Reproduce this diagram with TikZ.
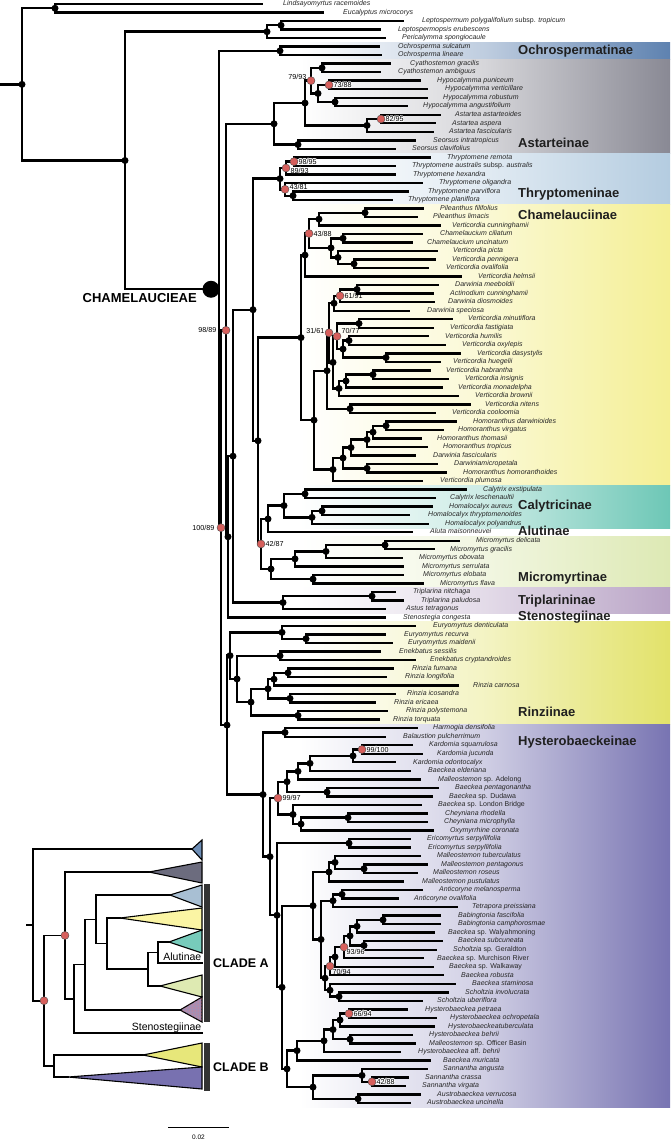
\documentclass[tikz,border=0pt]{standalone}
\usepackage{fontspec}
\setmainfont{Liberation Sans}
\usetikzlibrary{calc,patterns}
\pgfdeclarelayer{fg}
\pgfsetlayers{main,fg}
\definecolor{cOch}{HTML}{5E82B0}
\definecolor{cAst}{HTML}{898994}
\definecolor{cThr}{HTML}{B4CCE0}
\definecolor{cCha}{HTML}{F4EF94}
\definecolor{cCal}{HTML}{6DC7B6}
\definecolor{cMic}{HTML}{DDE9B4}
\definecolor{cTri}{HTML}{B9A4C6}
\definecolor{cRin}{HTML}{E2E26A}
\definecolor{cHys}{HTML}{7874B2}
\definecolor{tOch}{HTML}{6E8EB6}
\definecolor{tAst}{HTML}{6C6C7E}
\definecolor{tThr}{HTML}{A8BFD3}
\definecolor{tCha}{HTML}{FBF5A4}
\definecolor{tCal}{HTML}{77CBBB}
\definecolor{tMic}{HTML}{DEEAB2}
\definecolor{tTri}{HTML}{A58FB4}
\definecolor{tRin}{HTML}{E7E77A}
\definecolor{tHys}{HTML}{7871B0}
\definecolor{rdotc}{HTML}{D65F5C}
\tikzset{
  br/.style={line width=2.4pt, line join=miter, line cap=rect},
  ibr/.style={line width=1.6pt, line join=miter, line cap=rect},
  tiplab/.style={anchor=west, inner sep=0pt, font=\fontsize{7}{8}\selectfont\itshape, text=black!85, text height=5pt, text depth=1.5pt},
  sup/.style={inner sep=0.5pt, font=\fontsize{7.2}{8}\selectfont, text=black},
  clab/.style={anchor=west, inner sep=0pt, font=\fontsize{13}{15}\selectfont\bfseries, text=black!88},
  rdot/.style={fill=rdotc, draw=black!70, line width=0.4pt},
  tri/.style={draw=black, line width=1.1pt, line join=miter},
}
\newcommand\tipnode[4]{%
  \coordinate (t#1) at (#2,{4+(#1-1)*8.52});
  \node[tiplab] (l#1) at (#3,{4+(#1-1)*8.52}) {#4};}
\newcommand\conn[4]{%
  \coordinate (tmp) at ($(#3)!0.5!(#4)$);
  \coordinate (#1) at (#2,0 |- tmp);
  \draw[br] (#1) |- (#3);
  \draw[br] (#1) |- (#4);}
\newcommand\iconn[4]{%
  \coordinate (tmp) at ($(#3)!0.5!(#4)$);
  \coordinate (#1) at (#2,0 |- tmp);
  \draw[ibr] (#1) |- (#3);
  \draw[ibr] (#1) |- (#4);}
\newcommand\bnode[4]{\conn{#1}{#2}{#3}{#4}%
  \begin{pgfonlayer}{fg}\fill (#1) circle (3.5pt);\end{pgfonlayer}}
\newcommand\rnode[6]{\conn{#1}{#2}{#3}{#4}%
  \begin{pgfonlayer}{fg}\filldraw[rdot] (#1) circle (4pt);
  \node[sup,#5] (s#1) at (#1) {#6};\end{pgfonlayer}}
\newcommand\rnodeh[6]{\conn{#1}{#2}{#3}{#4}%
  \begin{pgfonlayer}{fg}\filldraw[rdot] (#1) circle (4pt);
  \foreach \hx/\hy [count=\hc] in {0.7/0,-0.7/0,0/0.7,0/-0.7,0.5/0.5,-0.5/0.5,0.5/-0.5,-0.5/-0.5}{\node[sup,#5,text=white,xshift=\hx pt,yshift=\hy pt] (h#1\hc) at (#1) {#6};}
  \node[sup,#5] (s#1) at (#1) {#6};\end{pgfonlayer}}
\begin{document}
\begin{tikzpicture}[x=1pt,y=-1pt]
\useasboundingbox (0,0) rectangle (670,1140);
\fill[white] (0,0) rectangle (670,1140);
% bands
\shade[left color=white, right color=cOch, middle color=cOch!40] (300,42.3) rectangle (670,59.4);
\shade[left color=white, right color=cAst, middle color=cAst!35] (300,59.4) rectangle (670,153.1);
\shade[left color=white, right color=cThr, middle color=cThr!40] (300,153.1) rectangle (670,204.2);
\shade[left color=white, right color=cCha, middle color=cCha!40] (300,204.2) rectangle (670,485.4);
\shade[left color=white, right color=cCal, middle color=cCal!35] (300,485.4) rectangle (670,528.0);
\shade[left color=white, right color=cMic, middle color=cMic!40] (300,536.5) rectangle (670,587.6);
\shade[left color=white, right color=cTri, middle color=cTri!40] (300,587.6) rectangle (670,613.2);
\shade[left color=white, right color=cRin, middle color=cRin!40] (300,621.7) rectangle (670,724.0);
\shade[left color=white, right color=cHys, middle color=cHys!35] (300,724.0) rectangle (670,1107.3);
% clade labels
\node[clab] (cl1) at (518,50.9) {Ochrospermatinae};
\node[clab] (cl2) at (518,143) {Astarteinae};
\node[clab] (cl3) at (518,194) {Thryptomeninae};
\node[clab] (cl4) at (518,215) {Chamelauciinae};
\node[clab] (cl5) at (518,506) {Calytricinae};
\node[clab] (cl6) at (518,530.5) {Alutinae};
\node[clab] (cl7) at (518,578) {Micromyrtinae};
\node[clab] (cl8) at (518,601) {Triplarininae};
\node[clab] (cl9) at (518,617.5) {Stenostegiinae};
\node[clab] (cl10) at (518,712) {Rinziinae};
\node[clab] (cl11) at (518,742) {Hysterobaeckeinae};
% tips
\tipnode{1}{262}{283}{Lindsayomyrtus racemoides}
\tipnode{2}{323}{343}{Eucalyptus microcorys}
\tipnode{3}{403}{422}{Leptospermum polygalifolium \textup{subsp.} tropicum}
\tipnode{4}{380}{398}{Leptospermopsis erubescens}
\tipnode{5}{385}{402}{Pericalymma spongiocaule}
\tipnode{6}{379}{398}{Ochrosperma sulcatum}
\tipnode{7}{381}{398}{Ochrosperma lineare}
\tipnode{8}{390}{410}{Cyathostemon gracilis}
\tipnode{9}{380}{398}{Cyathostemon ambiguus}
\tipnode{10}{420}{437}{Hypocalymma puniceum}
\tipnode{11}{427}{445}{Hypocalymma verticillare}
\tipnode{12}{427}{443}{Hypocalymma robustum}
\tipnode{13}{407}{423}{Hypocalymma angustifolium}
\tipnode{14}{440}{455}{Astartea astarteoides}
\tipnode{15}{435}{452}{Astartea aspera}
\tipnode{16}{433}{449}{Astartea fascicularis}
\tipnode{17}{415}{433}{Seorsus intratropicus}
\tipnode{18}{395}{412}{Seorsus clavifolius}
\tipnode{19}{430}{447}{Thryptomene remota}
\tipnode{20}{395}{412}{Thryptomene australis \textup{subsp.} australis}
\tipnode{21}{395}{413}{Thryptomene hexandra}
\tipnode{22}{422}{439}{Thryptomene oligandra}
\tipnode{23}{408}{428}{Thryptomene parviflora}
\tipnode{24}{392}{408}{Thryptomene planiflora}
\tipnode{25}{423}{440}{Pileanthus filifolius}
\tipnode{26}{417}{433}{Pileanthus limacis}
\tipnode{27}{440}{452}{Verticordia cunninghamii}
\tipnode{28}{422}{440}{Chamelaucium ciliatum}
\tipnode{29}{412}{427}{Chamelaucium uncinatum}
\tipnode{30}{437}{453}{Verticordia picta}
\tipnode{31}{435}{452}{Verticordia pennigera}
\tipnode{32}{428}{446}{Verticordia ovalifolia}
\tipnode{33}{461}{478}{Verticordia helmsii}
\tipnode{34}{438}{455}{Darwinia meeboldii}
\tipnode{35}{433}{450}{Actinodium cunninghamii}
\tipnode{36}{434}{448}{Darwinia diosmoides}
\tipnode{37}{409}{427}{Darwinia speciosa}
\tipnode{38}{452}{468}{Verticordia minutiflora}
\tipnode{39}{433}{450}{Verticordia fastigiata}
\tipnode{40}{428}{445}{Verticordia humilis}
\tipnode{41}{445}{462}{Verticordia oxylepis}
\tipnode{42}{460}{477}{Verticordia dasystylis}
\tipnode{43}{440}{453}{Verticordia huegelii}
\tipnode{44}{430}{446}{Verticordia habrantha}
\tipnode{45}{448}{465}{Verticordia insignis}
\tipnode{46}{442}{458}{Verticordia monadelpha}
\tipnode{47}{458}{475}{Verticordia brownii}
\tipnode{48}{470}{485}{Verticordia nitens}
\tipnode{49}{435}{452}{Verticordia cooloomia}
\tipnode{50}{456}{473}{Homoranthus darwinioides}
\tipnode{51}{443}{458}{Homoranthus virgatus}
\tipnode{52}{421}{437}{Homoranthus thomasii}
\tipnode{53}{427}{443}{Homoranthus tropicus}
\tipnode{54}{415}{433}{Darwinia fascicularis}
\tipnode{55}{437}{454}{Darwiniamicropetala}
\tipnode{56}{446}{463}{Homoranthus homoranthoides}
\tipnode{57}{422}{440}{Verticordia plumosa}
\tipnode{58}{466}{483}{Calytrix exstipulata}
\tipnode{59}{435}{450}{Calytrix leschenaultii}
\tipnode{60}{432}{449}{Homalocalyx aureus}
\tipnode{61}{409}{428}{Homalocalyx thryptomenoides}
\tipnode{62}{428}{445}{Homalocalyx polyandrus}
\tipnode{63}{412}{430}{Aluta maisonneuvei}
\tipnode{64}{459}{476}{Micromyrtus delicata}
\tipnode{65}{434}{450}{Micromyrtus gracilis}
\tipnode{66}{402}{419}{Micromyrtus obovata}
\tipnode{67}{403}{422}{Micromyrtus serrulata}
\tipnode{68}{403}{423}{Micromyrtus elobata}
\tipnode{69}{423}{440}{Micromyrtus flava}
\tipnode{70}{395}{413}{Triplarina nitchaga}
\tipnode{71}{403}{421}{Triplarina paludosa}
\tipnode{72}{385}{406}{Astus tetragonus}
\tipnode{73}{385}{403}{Stenostegia congesta}
\tipnode{74}{415}{433}{Euryomyrtus denticulata}
\tipnode{75}{385}{404}{Euryomyrtus recurva}
\tipnode{76}{392}{408}{Euryomyrtus maidenii}
\tipnode{77}{380}{399}{Enekbatus sessilis}
\tipnode{78}{415}{430}{Enekbatus cryptandroides}
\tipnode{79}{393}{412}{Rinzia fumana}
\tipnode{80}{386}{405}{Rinzia longifolia}
\tipnode{81}{458}{473}{Rinzia carnosa}
\tipnode{82}{395}{407}{Rinzia icosandra}
\tipnode{83}{375}{394}{Rinzia ericaea}
\tipnode{84}{387}{406}{Rinzia polystemona}
\tipnode{85}{379}{393}{Rinzia torquata}
\tipnode{86}{417}{433}{Harmogia densifolia}
\tipnode{87}{385}{403}{Balaustion pulcherrimum}
\tipnode{88}{412}{429}{Kardomia squarrulosa}
\tipnode{89}{422}{437}{Kardomia jucunda}
\tipnode{90}{395}{413}{Kardomia odontocalyx}
\tipnode{91}{410}{428}{Baeckea elderiana}
\tipnode{92}{420}{438}{Malleostemon \textup{sp. Adelong}}
\tipnode{93}{438}{455}{Baeckea pentagonantha}
\tipnode{94}{432}{449}{Baeckea \textup{sp. Dudawa}}
\tipnode{95}{421}{438}{Baeckea \textup{sp. London Bridge}}
\tipnode{96}{427}{445}{Cheyniana rhodella}
\tipnode{97}{427}{444}{Cheyniana microphylla}
\tipnode{98}{433}{450}{Oxymyrrhine coronata}
\tipnode{99}{410}{427}{Ericomyrtus serpyllifolia}
\tipnode{100}{410}{428}{Ericomyrtus serpyllifolia}
\tipnode{101}{420}{437}{Malleostemon tuberculatus}
\tipnode{102}{427}{441}{Malleostemon pentagonus}
\tipnode{103}{417}{433}{Malleostemon roseus}
\tipnode{104}{403}{422}{Malleostemon pustulatus}
\tipnode{105}{422}{439}{Anticoryne melanosperma}
\tipnode{106}{398}{414}{Anticoryne ovalifolia}
\tipnode{107}{457}{472}{Tetrapora preissiana}
\tipnode{108}{440}{458}{Babingtonia fascifolia}
\tipnode{109}{440}{458}{Babingtonia camphorosmae}
\tipnode{110}{434}{448}{Baeckea \textup{sp. Walyahmoning}}
\tipnode{111}{442}{458}{Baeckea subcuneata}
\tipnode{112}{436}{453}{Scholtzia \textup{sp. Geraldton}}
\tipnode{113}{423}{437}{Baeckea \textup{sp. Murchison River}}
\tipnode{114}{433}{449}{Baeckea \textup{sp. Walkaway}}
\tipnode{115}{443}{461}{Baeckea robusta}
\tipnode{116}{455}{472}{Baeckea staminosa}
\tipnode{117}{448}{465}{Scholtzia involucrata}
\tipnode{118}{422}{437}{Scholtzia uberiflora}
\tipnode{119}{407}{425}{Hysterobaeckea petraea}
\tipnode{120}{436}{450}{Hysterobaeckea ochropetala}
\tipnode{121}{434}{448}{Hysterobaeckeatuberculata}
\tipnode{122}{412}{429}{Hysterobaeckea behrii}
\tipnode{123}{415}{429}{Malleostemon \textup{sp. Officer Basin}}
\tipnode{124}{400}{418}{Hysterobaeckea \textup{aff.} behrii}
\tipnode{125}{430}{443}{Baeckea muricata}
\tipnode{126}{427}{443}{Sannantha angusta}
\tipnode{127}{408}{425}{Sannantha crassa}
\tipnode{128}{405}{422}{Sannantha virgata}
\tipnode{129}{420}{437}{Austrobaeckea verrucosa}
\tipnode{130}{410}{427}{Austrobaeckea uncinella}
% outgroups
\bnode{nLE}{55}{t1}{t2}
\bnode{nLP2}{281}{t3}{t4}
\bnode{nLP}{267}{nLP2}{t5}
\bnode{nOch}{280}{t6}{t7}
% Astarteinae
\bnode{nCya}{322}{t8}{t9}
\rnodeh{nHy1}{329}{t10}{t11}{anchor=west,xshift=4pt}{73/88}
\bnode{nHy2}{335}{t12}{t13}
\bnode{nHy}{318}{nHy1}{nHy2}
\rnode{n7993}{311}{nCya}{nHy}{anchor=east,xshift=-4pt,yshift=4pt}{79/93}
\rnodeh{nAs1}{381}{t14}{t15}{anchor=west,xshift=4pt}{82/95}
\bnode{nAs}{367}{nAs1}{t16}
\bnode{nAH}{305}{n7993}{nAs}
\bnode{nSeo}{298}{t17}{t18}
\bnode{nAst}{274}{nAH}{nSeo}
% Thryptomeninae
\rnodeh{nTh1}{294}{t19}{t20}{anchor=west,xshift=4pt}{98/95}
\rnodeh{nTh2}{286}{nTh1}{t21}{anchor=west,xshift=4pt,yshift=-2.5pt}{89/93}
\bnode{nTh3}{293}{t23}{t24}
\rnodeh{nTh4}{285}{t22}{nTh3}{anchor=west,xshift=4pt,yshift=2pt}{43/81}
\bnode{nThr}{280}{nTh2}{nTh4}
% Chamelauciinae
\bnode{nPil}{365}{t25}{t26}
\bnode{nPV}{319}{nPil}{t27}
\bnode{nCham}{343}{t28}{t29}
\bnode{nVp2}{354}{t31}{t32}
\bnode{nVp}{338}{t30}{nVp2}
\bnode{nCV}{331}{nCham}{nVp}
\rnode{n4388}{309}{nPV}{nCV}{anchor=west,xshift=4pt}{43/88}
\bnode{nC1}{305}{n4388}{t33}
\bnode{nDa1}{357}{t34}{t35}
\rnode{n6191}{340}{nDa1}{t36}{anchor=west,xshift=4pt}{61/91}
\bnode{nDa}{334}{n6191}{t37}
\bnode{nVm}{359}{t38}{t39}
\bnode{nVh}{349}{t40}{t41}
\bnode{nVd}{386}{t42}{t43}
\bnode{nVhd}{343}{nVh}{nVd}
\rnode{n7077}{337}{nVm}{nVhd}{anchor=west,xshift=4pt,yshift=5pt}{70/77}
\bnode{nVi}{373}{t44}{t45}
\bnode{nVim}{346}{nVi}{t46}
\bnode{nVb}{339}{nVim}{t47}
\bnode{nVlow}{333}{n7077}{nVb}
\rnode{n3161}{329}{nDa}{nVlow}{anchor=east,xshift=-4pt,yshift=2pt}{31/61}
\bnode{nVn}{350}{t48}{t49}
\bnode{nC2a}{327}{n3161}{nVn}
\bnode{nHo1}{386}{t50}{t51}
\bnode{nHo2}{373}{nHo1}{t52}
\bnode{nHo3}{367}{nHo2}{t53}
\bnode{nHo4}{351}{nHo3}{t54}
\bnode{nHo5}{367}{t55}{t56}
\bnode{nHo6}{343}{nHo4}{nHo5}
\bnode{nHo7}{333}{nHo6}{t57}
\bnode{nC2}{314}{nC2a}{nHo7}
\bnode{nChC}{301}{nC1}{nC2}
% Calytricinae, Alutinae, Micromyrtinae
\bnode{nCx}{305}{t58}{t59}
\bnode{nHm1}{322}{t60}{t61}
\bnode{nHm}{312}{nHm1}{t62}
\bnode{nCal}{284}{nCx}{nHm}
\bnode{nCA}{268}{nCal}{t63}
\bnode{nMi1}{385}{t64}{t65}
\bnode{nMi2}{326}{nMi1}{t66}
\bnode{nMi3}{295}{nMi2}{t67}
\bnode{nMi4}{313}{t68}{t69}
\bnode{nMic}{271}{nMi3}{nMi4}
\rnode{n4287}{261}{nCA}{nMic}{anchor=west,xshift=4pt}{42/87}
\bnode{nChMi}{258}{nChC}{n4287}
\bnode{nThCh}{253}{nThr}{nChMi}
\bnode{nTr1}{372}{t70}{t71}
\bnode{nTri}{283}{nTr1}{t72}
\bnode{nA2}{233}{nThCh}{nTri}
\bnode{nA1}{228}{nA2}{t73}
\rnode{n9889}{226}{nAst}{nA1}{anchor=east,xshift=-9pt}{98/89}
% Clade B
\bnode{nEu1}{306}{t75}{t76}
\bnode{nEu}{282}{t74}{nEu1}
\bnode{nEn}{280}{t77}{t78}
\bnode{nRz1}{288}{t79}{t80}
\bnode{nRz2}{274}{nRz1}{t81}
\bnode{nRz3}{290}{t82}{t83}
\bnode{nRz4}{268}{nRz2}{nRz3}
\bnode{nRz5}{298}{t84}{t85}
\bnode{nRz}{251}{nRz4}{nRz5}
\bnode{nEnR}{237}{nEn}{nRz}
\bnode{nRin}{230}{nEu}{nEnR}
\bnode{nHB}{285}{t86}{t87}
\rnodeh{nK1}{362}{t88}{t89}{anchor=west,xshift=4pt}{99/100}
\bnode{nK2}{353}{nK1}{t90}
\bnode{nK3}{310}{nK2}{t91}
\bnode{nK4}{298}{nK3}{t92}
\bnode{nBp}{327}{t93}{t94}
\bnode{nK5}{287}{nK4}{nBp}
\bnode{nCy}{348}{t96}{t97}
\bnode{nCy2}{301}{nCy}{t98}
\bnode{nLB}{293}{t95}{nCy2}
\rnode{n9997}{278}{nK5}{nLB}{anchor=west,xshift=4pt}{99/97}
\bnode{nEr}{349}{t99}{t100}
\bnode{nMa1}{364}{t102}{t103}
\bnode{nMa2}{335}{t101}{nMa1}
\bnode{nMa3}{329}{nMa2}{t104}
\bnode{nAn1}{342}{t105}{t106}
\bnode{nAn}{333}{nAn1}{t107}
\bnode{nBa1}{383}{t108}{t109}
\bnode{nBa2}{357}{nBa1}{t110}
\bnode{nBa3}{364}{t111}{t112}
\bnode{nBa4}{350}{nBa2}{nBa3}
\rnodeh{n9396}{344}{nBa4}{t113}{anchor=north west,xshift=2pt,yshift=-2pt}{93/96}
\bnode{nQ}{335}{n9396}{t114}
\rnode{n7094}{330}{nQ}{t115}{anchor=north west,xshift=2pt,yshift=-2pt}{70/94}
\bnode{nSt1}{339}{t117}{t118}
\bnode{nSt}{330}{t116}{nSt1}
\bnode{nN1}{325}{n7094}{nSt}
\bnode{nAnB}{321}{nAn}{nN1}
\bnode{nMaB}{313}{nMa3}{nAnB}
\rnodeh{nHs1}{349}{t119}{t120}{anchor=west,xshift=4pt}{66/94}
\bnode{nHs2}{340}{nHs1}{t121}
\bnode{nHs3}{350}{t122}{t123}
\bnode{nHs4}{333}{nHs2}{nHs3}
\bnode{nHs5}{324}{nHs4}{t124}
\bnode{nHs6}{297}{nHs5}{t125}
\rnodeh{nSa1}{372}{t127}{t128}{anchor=west,xshift=4pt}{42/88}
\bnode{nSa}{362}{t126}{nSa1}
\bnode{nAu}{358}{t129}{t130}
\bnode{nSaAu}{313}{nSa}{nAu}
\bnode{nHsS}{287}{nHs6}{nSaAu}
\bnode{nL1}{282}{nMaB}{nHsS}
\bnode{nL2}{277}{nEr}{nL1}
\bnode{nL3}{270}{n9997}{nL2}
\bnode{nHys}{263}{nHB}{nL3}
\bnode{nCB}{227}{nRin}{nHys}
\rnode{nA100}{221}{n9889}{nCB}{anchor=east,xshift=-6pt}{100/89}
\conn{nCH}{219}{nOch}{nA100}
\bnode{nLC}{125}{nLP}{nCH}
\bnode{nR}{22}{nLE}{nLC}
\coordinate (nRoot) at (0,0 |- nR);
\draw[br] (nRoot) -- (nR);
\coordinate (bigdot) at (211,0 |- nCH);
\begin{pgfonlayer}{fg}\fill (bigdot) circle (8.5pt);\end{pgfonlayer}
\node[anchor=east, inner sep=0pt, font=\fontsize{13}{15}\selectfont\bfseries] (chl) at (197,298) {CHAMELAUCIEAE};
% inset
\coordinate (iOch) at (192,849);
\coordinate (iAst) at (149,872);
\coordinate (iThr) at (170,895);
\coordinate (iCha) at (120,918);
\coordinate (iCal) at (169,942);
\coordinate (iAlu) at (202,963);
\coordinate (iMic) at (160,986);
\coordinate (iTri) at (180,1010);
\coordinate (iSte) at (202,1033);
\coordinate (iRin) at (143,1055);
\coordinate (iHys) at (68,1077);
\iconn{iA7}{158}{iCal}{iAlu}
\iconn{iA6}{148}{iA7}{iMic}
\iconn{iA5}{107}{iCha}{iA6}
\iconn{iA4}{96}{iThr}{iA5}
\iconn{iA3}{85}{iA4}{iTri}
\iconn{iA2}{74}{iA3}{iSte}
\iconn{iA}{65}{iAst}{iA2}
\iconn{iB}{54}{iRin}{iHys}
\iconn{iB1}{44}{iA}{iB}
\iconn{iR}{33}{iOch}{iB1}
\coordinate (iS) at (27,0 |- iR);
\draw[ibr] (iS) -- (iR);
\filldraw[tri, fill=tOch] (iOch) -- (202,840) -- (202,860) -- cycle;
\filldraw[tri, fill=tAst] (iAst) -- (202,862) -- (202,883) -- cycle;
\filldraw[tri, fill=tThr] (iThr) -- (202,885) -- (202,907) -- cycle;
\filldraw[tri, fill=tCha] (iCha) -- (202,908) -- (202,930) -- cycle;
\filldraw[tri, fill=tCal] (iCal) -- (202,930) -- (202,953) -- cycle;
\filldraw[tri, fill=tMic] (iMic) -- (202,975) -- (202,997) -- cycle;
\filldraw[tri, fill=tTri] (iTri) -- (202,997) -- (202,1022) -- cycle;
\fill[pattern=dots, pattern color=red!55] (iTri) -- (202,997) -- (202,1022) -- cycle;
\filldraw[tri, fill=tRin] (iRin) -- (202,1043) -- (202,1067) -- cycle;
\filldraw[tri, fill=tHys] (iHys) -- (202,1067) -- (202,1089) -- cycle;
\filldraw[rdot] (iA) circle (4pt);
\filldraw[rdot] (iB1) circle (4pt);
\node[anchor=base east, inner sep=0.5pt, font=\fontsize{10.5}{12}\selectfont] (ialu) at (202,960.5) {Alutinae};
\node[anchor=base east, inner sep=0.5pt, font=\fontsize{10.5}{12}\selectfont] (iste) at (202,1030.5) {Stenostegiinae};
\fill[black!80] (204,884) rectangle (210,1022);
\fill[black!80] (204,1043) rectangle (210,1091);
\node[anchor=west, inner sep=0pt, font=\fontsize{12.5}{14}\selectfont\bfseries] (cla) at (213,963) {CLADE A};
\node[anchor=west, inner sep=0pt, font=\fontsize{12.5}{14}\selectfont\bfseries] (clb) at (213,1067) {CLADE B};
% scale bar
\coordinate (sb1) at (168,1127);
\coordinate (sb2) at (229,1127);
\draw[line width=1pt] (sb1) -- (sb2);
\node[inner sep=0pt, font=\fontsize{6.5}{7}\selectfont] (sbl) at (198.5,1137) {0.02};
\end{tikzpicture}
\end{document}
